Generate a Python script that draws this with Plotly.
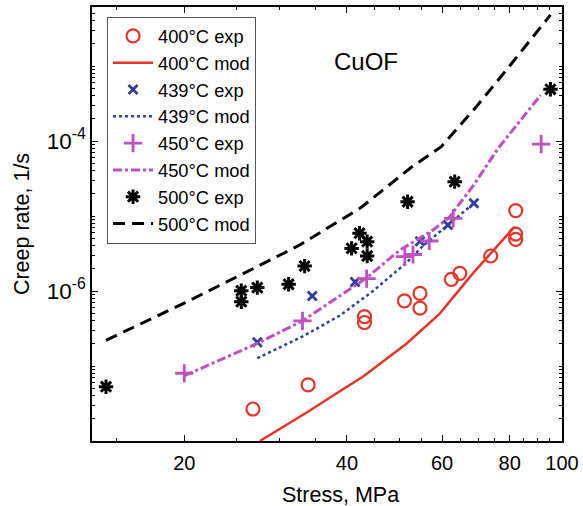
import plotly.graph_objects as go

# ---- data ----
x400_exp = [26.8, 33.9, 43.1, 43.1, 51.1, 54.6, 54.6, 62.4, 64.7, 73.8, 82.1, 82.1, 82.1]
y400_exp = [2.67e-8, 5.6e-8, 4.55e-7, 3.8e-7, 7.4e-7, 9.3e-7, 5.9e-7, 1.43e-6, 1.72e-6,
            2.93e-6, 1.18e-5, 5.75e-6, 4.89e-6]
x400_mod = [27.6, 33.7, 38.8, 42.8, 51.6, 59.4, 68.4, 73.8, 81.7]
y400_mod = [1.0e-8, 2.4e-8, 4.6e-8, 7.2e-8, 2.0e-7, 5.0e-7, 1.72e-6, 3.2e-6, 7.2e-6]

x439_exp = [27.3, 34.5, 41.4, 54.6, 61.5, 68.7]
y439_exp = [2.07e-7, 8.6e-7, 1.32e-6, 4.6e-6, 7.6e-6, 1.48e-5]
x439_mod = [27.3, 33.2, 38.8, 44.7, 51.6, 55.3, 61.8, 68.7]
y439_mod = [1.27e-7, 2.5e-7, 4.7e-7, 1.0e-6, 2.4e-6, 4.0e-6, 7.8e-6, 1.48e-5]

x450_exp = [20.0, 33.1, 43.5, 51.2, 53.0, 56.8, 62.9, 91.5]
y450_exp = [8.0e-8, 4.0e-7, 1.46e-6, 2.87e-6, 3.07e-6, 4.64e-6, 9.3e-6, 9.1e-5]
x450_mod = [20.0, 27.3, 33.1, 43.5, 50.1, 57.7, 61.8, 68.4, 76.2, 83.8, 91.3]
y450_mod = [7.4e-8, 2.0e-7, 4.0e-7, 1.5e-6, 3.5e-6, 6.5e-6, 9.5e-6, 2.5e-5, 8.0e-5, 1.9e-4, 4.1e-4]

x500_exp = [14.33, 25.5, 25.5, 27.3, 31.2, 33.4, 40.8, 42.2, 43.6, 43.6, 51.8, 63.3, 95.2]
y500_exp = [5.3e-8, 7.2e-7, 1.01e-6, 1.11e-6, 1.23e-6, 2.15e-6, 3.7e-6, 5.9e-6, 4.55e-6,
            2.93e-6, 1.55e-5, 2.87e-5, 4.89e-4]
x500_mod = [14.33, 20.0, 26.1, 32.7, 42.3, 52.7, 59.8, 69.4, 78.9, 89.6, 95.2]
y500_mod = [2.2e-7, 6.9e-7, 1.8e-6, 4.1e-6, 1.27e-5, 4.5e-5, 8.4e-5, 2.86e-4, 8.85e-4, 2.75e-3, 4.8e-3]

x_ticks = [20, 40, 60, 80, 100]
x_minor = [15, 25, 30, 35, 45, 50, 55, 65, 70, 75, 85, 90, 95]
y_ticks = [1e-6, 1e-4]
y_ticktext = ["10<sup>-6</sup>", "10<sup>-4</sup>"]
y_minor = [m * 10.0 ** e for e in range(-8, -2) for m in range(1, 10)
           if not (m == 1 and e in (-6, -4))]

RED = "#e8332a"
BLUE = "#2f3d9c"
MAG = "#c04fc2"
BLK = "#000000"
FONT = "Arial, Liberation Sans, sans-serif"

fig = go.Figure()
fig.add_trace(go.Scatter(x=x400_exp, y=y400_exp, mode="markers", name="400°C exp",
                         marker=dict(symbol="circle-open", size=13, color=RED, line=dict(width=2.2, color=RED))))
fig.add_trace(go.Scatter(x=x400_mod, y=y400_mod, mode="lines", name="400°C mod",
                         line=dict(color=RED, width=2.5)))
fig.add_trace(go.Scatter(x=x439_exp, y=y439_exp, mode="markers", name="439°C exp",
                         marker=dict(symbol="x-thin", size=9, color=BLUE, line=dict(width=2.8, color=BLUE))))
fig.add_trace(go.Scatter(x=x439_mod, y=y439_mod, mode="lines", name="439°C mod",
                         line=dict(color=BLUE, width=2.5, dash="dot")))
fig.add_trace(go.Scatter(x=x450_exp, y=y450_exp, mode="markers", name="450°C exp",
                         marker=dict(symbol="cross-thin", size=13, color=MAG, line=dict(width=2.8, color=MAG))))
fig.add_trace(go.Scatter(x=x450_mod, y=y450_mod, mode="lines", name="450°C mod",
                         line=dict(color=MAG, width=3, dash="9px,3px,3px,3px")))
fig.add_trace(go.Scatter(x=x500_exp, y=y500_exp, mode="markers", name="500°C exp",
                         marker=dict(symbol="asterisk-open", size=12, color=BLK, line=dict(width=3.0, color=BLK))))
fig.add_trace(go.Scatter(x=x500_mod, y=y500_mod, mode="lines", name="500°C mod",
                         line=dict(color=BLK, width=3, dash="12px,7px")))

fig.update_layout(
    width=583, height=506,
    margin=dict(l=92, r=21, t=7, b=65, autoexpand=False),
    paper_bgcolor="white", plot_bgcolor="white",
    font=dict(family=FONT, color="black"),
    showlegend=True,
    legend=dict(x=0.032, y=0.978, xanchor="left", yanchor="top",
                bgcolor="white", bordercolor="#555555", borderwidth=1,
                font=dict(size=18.3, family=FONT), itemwidth=40),
    xaxis=dict(type="log", range=[1.1303, 2.0], tickmode="array", tickvals=x_ticks,
               ticktext=[str(v) for v in x_ticks], automargin=False, ticklabelstandoff=3,
               ticks="inside", ticklen=6, tickwidth=1, tickcolor="black",
               showline=True, linecolor="black", linewidth=1.5, mirror="ticks",
               showgrid=False, zeroline=False, tickfont=dict(size=20),
               minor=dict(tickmode="array", tickvals=x_minor, ticks="inside", ticklen=3,
                          tickcolor="black", showgrid=False)),
    yaxis=dict(type="log", range=[-8, -2.213], tickmode="array", tickvals=y_ticks,
               ticktext=y_ticktext, automargin=False,
               ticks="inside", ticklen=6, tickwidth=1, tickcolor="black",
               showline=True, linecolor="black", linewidth=1.5, mirror="ticks",
               showgrid=False, zeroline=False, tickfont=dict(size=22.5),
               title=dict(text="Creep rate, 1/s", font=dict(size=21.5), standoff=11),
               minor=dict(tickmode="array", tickvals=y_minor, ticks="inside", ticklen=3,
                          tickcolor="black", showgrid=False)),
    annotations=[
        dict(text="CuOF", x=0.583, y=(441 - 62) / 434, xref="paper", yref="paper",
             xanchor="center", yanchor="middle",
             showarrow=False, font=dict(size=24, family=FONT)),
        dict(text="Stress, MPa", x=(340.7 - 92) / 470, y=(441 - 495) / 434, xref="paper", yref="paper",
             xanchor="center", yanchor="middle",
             showarrow=False, font=dict(size=21.5, family=FONT)),
    ],
)

fig.write_html("out.html", config={"displayModeBar": False},
               post_script="document.body.style.margin='0';")
